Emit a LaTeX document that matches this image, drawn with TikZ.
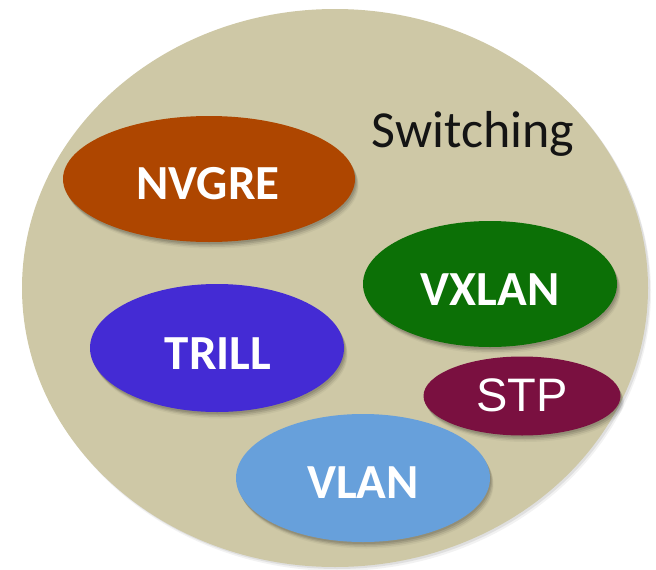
\documentclass[tikz,border=0pt]{standalone}
\usepackage{fontspec}
\setmainfont{Carlito}
\newfontfamily\arialfont{Liberation Sans}
\usetikzlibrary{shapes.geometric,shadows}

\definecolor{sandbg}{HTML}{CEC8A6}
\definecolor{rustfill}{HTML}{AE4600}
\definecolor{greenfill}{HTML}{0C7006}
\definecolor{violetfill}{HTML}{442BD4}
\definecolor{winefill}{HTML}{7A1040}
\definecolor{skyfill}{HTML}{67A0DB}

\tikzset{
  % soft shadow built from a few faint offset copies
  softshadow/.style={
    drop shadow={shadow xshift=1pt, shadow yshift=-2pt, opacity=0.10, fill=black},
    drop shadow={shadow xshift=2pt, shadow yshift=-3.5pt, opacity=0.10, fill=black},
    drop shadow={shadow xshift=3pt, shadow yshift=-5pt, opacity=0.07, fill=black},
    drop shadow={shadow xshift=3.5pt, shadow yshift=-6.5pt, opacity=0.04, fill=black}},
  blob/.style={ellipse, draw=none, inner sep=0pt, softshadow},
  tag/.style={text=white, inner sep=0pt, font=\bfseries\fontsize{49}{49}\selectfont},
}

\begin{document}
\begin{tikzpicture}[x=1pt, y=-1pt]
  \useasboundingbox (0,0) rectangle (656,570);

  % outer domain
  \node[ellipse, inner sep=0pt, fill=sandbg, minimum width=626pt, minimum height=558pt,
        drop shadow={shadow xshift=2pt, shadow yshift=-2pt, opacity=0.08, fill=black},
        drop shadow={shadow xshift=3pt, shadow yshift=-4pt, opacity=0.05, fill=black}]
        (outer) at (335,288) {};
  \node[anchor=base, inner sep=0pt, text=black!92,
        font=\fontsize{52}{52}\selectfont] (title) at (473,147) {Switching};

  % technologies
  \node[blob, fill=rustfill, minimum width=292pt, minimum height=126pt] (nvgre) at (209,179) {};
  \node[tag] (nvgrelbl) at (208,184) {NVGRE};

  \node[blob, fill=greenfill, minimum width=254pt, minimum height=126pt] (vxlan) at (490,284) {};
  \node[tag] (vxlanlbl) at (490,290) {VXLAN};

  \node[blob, fill=violetfill, minimum width=254pt, minimum height=128pt] (trill) at (217,348) {};
  \node[tag] (trilllbl) at (218,354) {TRILL};

  \node[blob, fill=winefill, minimum width=197pt, minimum height=79pt] (stp) at (522,396) {};
  \node[text=white, inner sep=0pt, font=\arialfont\fontsize{47}{47}\selectfont] (stplbl) at (522,395) {STP};

  \node[blob, fill=skyfill, minimum width=254pt, minimum height=128pt] (vlan) at (363,478) {};
  \node[tag] (vlanlbl) at (363,483) {VLAN};
\end{tikzpicture}
\end{document}
